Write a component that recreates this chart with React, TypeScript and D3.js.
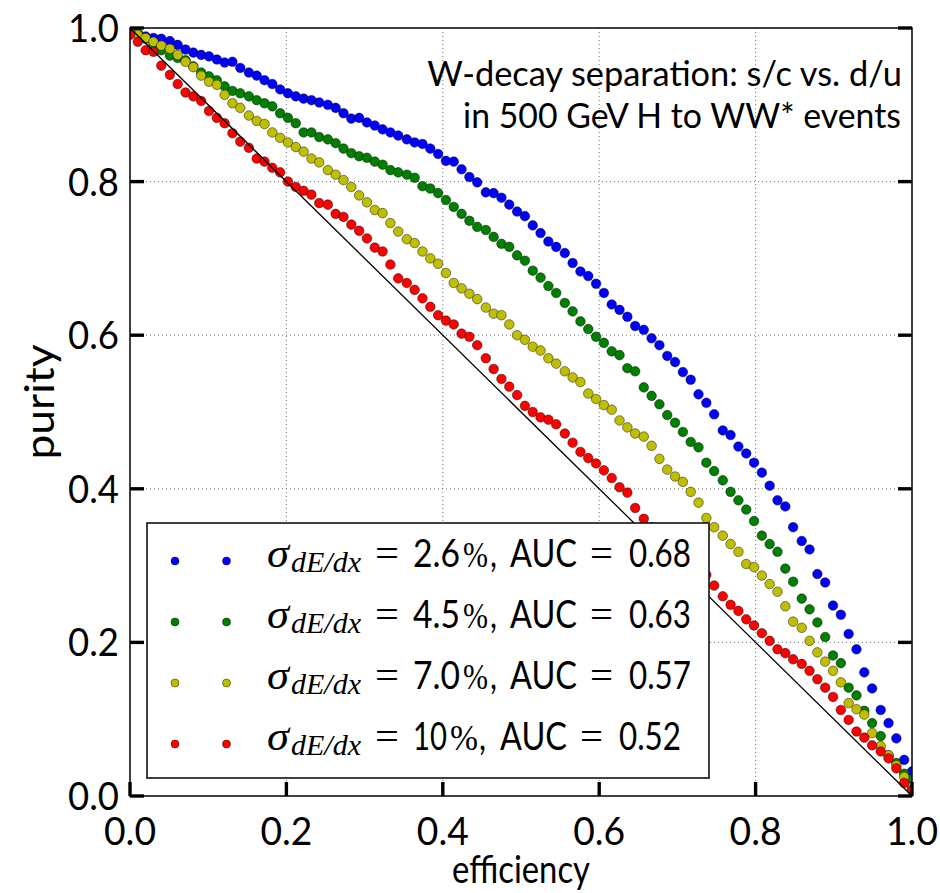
import React, { useLayoutEffect, useRef, useState } from 'react';
import * as d3 from 'd3';

// efficiency grid (100 working points)
const efficiency = [
  0.000, 0.010, 0.020, 0.030, 0.040, 0.051, 0.061, 0.071, 0.081, 0.091,
  0.101, 0.111, 0.121, 0.131, 0.141, 0.152, 0.162, 0.172, 0.182, 0.192,
  0.202, 0.212, 0.222, 0.232, 0.242, 0.253, 0.263, 0.273, 0.283, 0.293,
  0.303, 0.313, 0.323, 0.333, 0.343, 0.354, 0.364, 0.374, 0.384, 0.394,
  0.404, 0.414, 0.424, 0.434, 0.444, 0.455, 0.465, 0.475, 0.485, 0.495,
  0.505, 0.515, 0.525, 0.535, 0.545, 0.556, 0.566, 0.576, 0.586, 0.596,
  0.606, 0.616, 0.626, 0.636, 0.646, 0.657, 0.667, 0.677, 0.687, 0.697,
  0.707, 0.717, 0.727, 0.737, 0.747, 0.758, 0.768, 0.778, 0.788, 0.798,
  0.808, 0.818, 0.828, 0.838, 0.848, 0.859, 0.869, 0.879, 0.889, 0.899,
  0.909, 0.919, 0.929, 0.939, 0.949, 0.960, 0.970, 0.980, 0.990, 1.000,
];

const purityBlue = [
  1.000, 0.993, 0.989, 0.987, 0.986, 0.983, 0.978, 0.972, 0.968, 0.965,
  0.963, 0.959, 0.955, 0.956, 0.948, 0.942, 0.938, 0.932, 0.927, 0.920,
  0.915, 0.911, 0.908, 0.906, 0.903, 0.900, 0.896, 0.889, 0.882, 0.883,
  0.877, 0.873, 0.868, 0.864, 0.860, 0.855, 0.851, 0.849, 0.843, 0.836,
  0.827, 0.826, 0.816, 0.806, 0.799, 0.786, 0.785, 0.779, 0.770, 0.761,
  0.755, 0.743, 0.733, 0.722, 0.715, 0.707, 0.694, 0.683, 0.677, 0.667,
  0.655, 0.640, 0.633, 0.624, 0.612, 0.607, 0.596, 0.587, 0.573, 0.565,
  0.552, 0.542, 0.523, 0.512, 0.497, 0.476, 0.470, 0.455, 0.446, 0.434,
  0.421, 0.404, 0.385, 0.377, 0.350, 0.332, 0.321, 0.289, 0.278, 0.248,
  0.236, 0.211, 0.191, 0.161, 0.140, 0.112, 0.095, 0.075, 0.047, 0.032,
];

const purityGreen = [
  0.997, 0.993, 0.986, 0.978, 0.971, 0.964, 0.961, 0.958, 0.950, 0.942,
  0.937, 0.932, 0.924, 0.918, 0.915, 0.911, 0.906, 0.902, 0.898, 0.889,
  0.883, 0.876, 0.864, 0.864, 0.858, 0.855, 0.850, 0.843, 0.837, 0.833,
  0.831, 0.826, 0.822, 0.815, 0.812, 0.809, 0.805, 0.794, 0.791, 0.785,
  0.776, 0.767, 0.758, 0.749, 0.741, 0.737, 0.728, 0.719, 0.715, 0.704,
  0.697, 0.684, 0.675, 0.664, 0.655, 0.642, 0.631, 0.618, 0.608, 0.598,
  0.590, 0.579, 0.574, 0.557, 0.553, 0.532, 0.521, 0.510, 0.496, 0.486,
  0.474, 0.461, 0.454, 0.434, 0.423, 0.411, 0.396, 0.385, 0.373, 0.358,
  0.339, 0.328, 0.318, 0.296, 0.279, 0.257, 0.243, 0.226, 0.207, 0.183,
  0.173, 0.141, 0.131, 0.111, 0.095, 0.078, 0.053, 0.043, 0.029, 0.021,
];

const purityYellow = [
  0.995, 0.991, 0.987, 0.982, 0.977, 0.973, 0.965, 0.956, 0.949, 0.938,
  0.930, 0.926, 0.913, 0.902, 0.896, 0.886, 0.879, 0.875, 0.864, 0.857,
  0.851, 0.845, 0.839, 0.830, 0.825, 0.815, 0.809, 0.802, 0.793, 0.782,
  0.773, 0.763, 0.759, 0.746, 0.735, 0.725, 0.720, 0.709, 0.700, 0.693,
  0.681, 0.668, 0.661, 0.654, 0.647, 0.636, 0.628, 0.626, 0.614, 0.600,
  0.594, 0.585, 0.580, 0.570, 0.563, 0.553, 0.545, 0.539, 0.524, 0.517,
  0.509, 0.503, 0.489, 0.480, 0.472, 0.468, 0.456, 0.439, 0.425, 0.416,
  0.409, 0.396, 0.382, 0.362, 0.350, 0.339, 0.328, 0.318, 0.302, 0.298,
  0.287, 0.276, 0.266, 0.247, 0.227, 0.219, 0.202, 0.187, 0.175, 0.163,
  0.148, 0.121, 0.113, 0.106, 0.082, 0.065, 0.053, 0.040, 0.025, 0.012,
];

const purityRed = [
  0.991, 0.982, 0.971, 0.969, 0.951, 0.939, 0.927, 0.916, 0.911, 0.905,
  0.892, 0.883, 0.876, 0.863, 0.852, 0.844, 0.830, 0.826, 0.818, 0.812,
  0.800, 0.793, 0.788, 0.783, 0.772, 0.770, 0.758, 0.754, 0.744, 0.736,
  0.726, 0.714, 0.709, 0.692, 0.674, 0.668, 0.659, 0.648, 0.637, 0.626,
  0.619, 0.614, 0.602, 0.598, 0.587, 0.570, 0.556, 0.543, 0.533, 0.522,
  0.508, 0.500, 0.493, 0.490, 0.484, 0.472, 0.460, 0.448, 0.440, 0.433,
  0.424, 0.414, 0.402, 0.395, 0.375, 0.361, 0.350, 0.340, 0.330, 0.321,
  0.312, 0.305, 0.297, 0.288, 0.274, 0.260, 0.249, 0.241, 0.230, 0.222,
  0.212, 0.202, 0.191, 0.186, 0.178, 0.172, 0.163, 0.152, 0.141, 0.129,
  0.112, 0.099, 0.084, 0.076, 0.066, 0.058, 0.049, 0.036, 0.017, 0.008,
];

const seriesPurity = [purityBlue, purityGreen, purityYellow, purityRed];
const seriesColors = ['#0000ff', '#008000', '#bfbf00', '#ff0000'];
const sigmaLabels = ['2.6', '4.5', '7.0', '10'];
const aucLabels = ['0.68', '0.63', '0.57', '0.52'];
const xTicks = [0.0, 0.2, 0.4, 0.6, 0.8, 1.0];
const yTicks = [0.0, 0.2, 0.4, 0.6, 0.8, 1.0];
const titleLines = ['W-decay separation: s/c vs. d/u', 'in 500 GeV H to WW* events'];
const xLabel = 'efficiency';
const yLabel = 'purity';

const SANS = "Lato, 'DejaVu Sans', sans-serif";
const SERIF = "'Liberation Serif', 'DejaVu Serif', serif";

// text squeezed horizontally (via transform) to a given width
function FitText(props: {
  x: number; y: number; width: number; anchor?: string; rotate?: number;
  fontFamily?: string; fontSize?: number; fontStyle?: string; children: React.ReactNode;
}) {
  const { x, y, width, anchor = 'start', rotate = 0, fontFamily = SANS, fontSize = 38, fontStyle, children } = props;
  const ref = useRef<SVGTextElement>(null);
  const [s, setS] = useState(1);
  useLayoutEffect(() => {
    if (ref.current) {
      const w = ref.current.getComputedTextLength();
      if (w > 0) setS(width / w);
    }
  }, [width, children, fontSize, fontFamily]);
  return (
    <text
      ref={ref}
      transform={`translate(${x},${y}) rotate(${rotate}) scale(${s},1)`}
      textAnchor={anchor}
      fontFamily={fontFamily}
      fontSize={fontSize}
      fontStyle={fontStyle}
      fill="#000"
    >
      {children}
    </text>
  );
}

export default function App() {
  const W = 940;
  const H = 893;
  const L = 130, R = 912, T = 28, B = 796;
  const x = d3.scaleLinear().domain([0, 1]).range([L, R]);
  const y = d3.scaleLinear().domain([0, 1]).range([B, T]);
  const fmt = d3.format('.1f');
  const diag = d3.line<[number, number]>().x((d) => x(d[0])).y((d) => y(d[1]));

  const tickLen = 14;
  const tickW = 3.4;

  // legend layout
  const lg = { x0: 147, y0: 523, x1: 709, y1: 778 };
  const rowBase = [566.7, 627.7, 688.7, 749.7];

  return (
    <svg
      width={W}
      height={H}
      style={{ position: 'absolute', left: 0, top: 0, background: '#fff' }}
      xmlns="http://www.w3.org/2000/svg"
    >
      <defs>
        <clipPath id="plotclip">
          <rect x={L} y={T} width={R - L} height={B - T} />
        </clipPath>
      </defs>
      <rect x={0} y={0} width={W} height={H} fill="#fff" />

      {/* grid */}
      <g stroke="#777" strokeWidth={1} strokeDasharray="1,3">
        {xTicks.filter((t) => t > 0 && t < 1).map((t) => (
          <line key={'gx' + t} x1={x(t)} x2={x(t)} y1={T} y2={B} />
        ))}
        {yTicks.filter((t) => t > 0 && t < 1).map((t) => (
          <line key={'gy' + t} x1={L} x2={R} y1={y(t)} y2={y(t)} />
        ))}
      </g>

      {/* data points */}
      <g clipPath="url(#plotclip)">
        {seriesPurity.map((ser, si) => (
          <g key={'s' + si} fill={seriesColors[si]} stroke="#000" strokeWidth={0.6} strokeOpacity={0.75}>
            {ser.map((p, i) => (
              <circle key={i} cx={x(efficiency[i])} cy={y(p)} r={4.8} />
            ))}
          </g>
        ))}
        <path
          d={diag([[0, 1], [1, 0]]) || ''}
          stroke="#000"
          strokeWidth={1.3}
          fill="none"
        />
      </g>

      {/* frame */}
      <rect x={L} y={T} width={R - L} height={B - T} fill="none" stroke="#000" strokeWidth={1.5} />

      {/* ticks */}
      <g stroke="#000" strokeWidth={tickW}>
        {yTicks.map((t) => (
          <g key={'ty' + t}>
            <line x1={L} x2={L + tickLen} y1={y(t)} y2={y(t)} />
            <line x1={R - tickLen} x2={R} y1={y(t)} y2={y(t)} />
          </g>
        ))}
        {xTicks.map((t) => (
          <line key={'tx' + t} x1={x(t)} x2={x(t)} y1={B} y2={B - tickLen} />
        ))}
      </g>

      {/* tick labels */}
      {yTicks.map((t) => (
        <FitText key={'ly' + t} x={119} y={y(t) + 14} width={51} anchor="end" fontSize={39}>
          {fmt(t)}
        </FitText>
      ))}
      {xTicks.map((t) => (
        <FitText key={'lx' + t} x={x(t)} y={845} width={52} anchor="middle" fontSize={38}>
          {fmt(t)}
        </FitText>
      ))}

      {/* axis labels */}
      <FitText x={521} y={883} width={138} anchor="middle" fontSize={38}>{xLabel}</FitText>
      <FitText x={54} y={402} width={115} anchor="middle" fontSize={40} rotate={-90}>{yLabel}</FitText>

      {/* annotation */}
      <FitText x={902} y={85.5} width={475} anchor="end" fontSize={35}>{titleLines[0]}</FitText>
      <FitText x={901} y={127.5} width={438} anchor="end" fontSize={35}>{titleLines[1]}</FitText>

      {/* legend */}
      <rect x={lg.x0} y={lg.y0} width={lg.x1 - lg.x0} height={lg.y1 - lg.y0} fill="#fff" stroke="#111" strokeWidth={1.6} />
      {seriesColors.map((c, i) => {
        const b = rowBase[i];
        const short = sigmaLabels[i].length === 2;
        const sh = short ? -10 : 0;
        return (
          <g key={'lg' + i}>
            <circle cx={175} cy={b - 5.7} r={4} fill={c} stroke="#000" strokeWidth={0.6} strokeOpacity={0.75} />
            <circle cx={226.5} cy={b - 5.7} r={4} fill={c} stroke="#000" strokeWidth={0.6} strokeOpacity={0.75} />
            <FitText x={267} y={b} width={22} fontFamily={SERIF} fontStyle="italic" fontSize={42}>σ</FitText>
            <FitText x={291} y={b + 5} width={70} fontFamily={SERIF} fontStyle="italic" fontSize={30}>dE/dx</FitText>
            <FitText x={375} y={b} width={24} fontFamily={SERIF} fontSize={40}>=</FitText>
            <FitText x={413} y={b} width={short ? 34 : 47} fontSize={38}>{sigmaLabels[i]}</FitText>
            <FitText x={463 + (short ? -13 : 0)} y={b} width={short ? 28 : 25} fontFamily={SERIF} fontSize={36}>%</FitText>
            <FitText x={490 + (short ? -11 : 0)} y={b} width={7} fontSize={38}>,</FitText>
            <FitText x={510 + sh} y={b} width={67} fontSize={38}>AUC</FitText>
            <FitText x={590 + sh} y={b} width={23} fontFamily={SERIF} fontSize={40}>=</FitText>
            <FitText x={629 + sh} y={b} width={62} fontSize={38}>{aucLabels[i]}</FitText>
          </g>
        );
      })}
    </svg>
  );
}
